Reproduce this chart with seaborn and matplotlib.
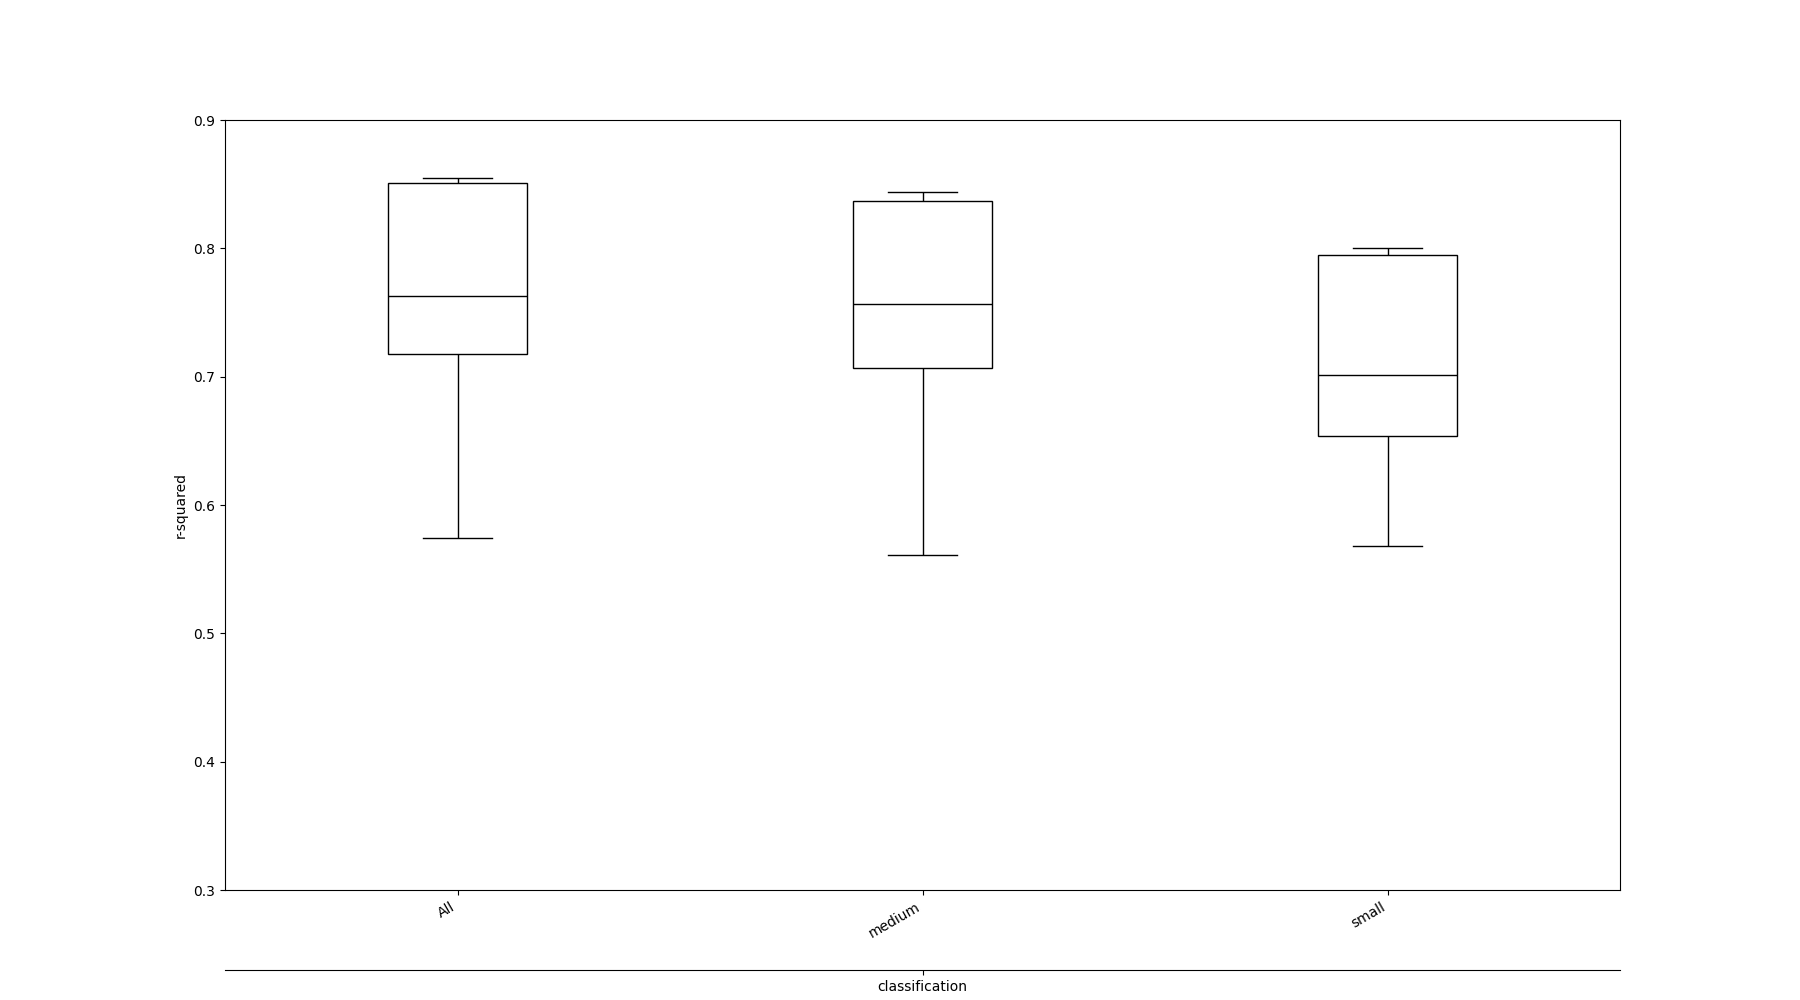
import pandas as pd
import seaborn as sns
import matplotlib
matplotlib.use("Agg")
import matplotlib.pyplot as plt

# Five-number summaries (lower whisker, Q1, median, Q3, upper whisker)
categories = ["All", "medium", "small"]
all_values = [0.574, 0.718, 0.763, 0.851, 0.855]
medium_values = [0.561, 0.707, 0.757, 0.837, 0.844]
small_values = [0.568, 0.654, 0.701, 0.795, 0.800]
y_ticks = [0.3, 0.4, 0.5, 0.6, 0.7, 0.8, 0.9]


def main():
    df = pd.DataFrame({
        "classification": (["All"] * len(all_values)
                           + ["medium"] * len(medium_values)
                           + ["small"] * len(small_values)),
        "r-squared": all_values + medium_values + small_values,
    })

    fig, ax = plt.subplots(figsize=(18, 10), dpi=100)

    sns.boxplot(data=df, x="classification", y="r-squared", order=categories,
                color="white", linecolor="black", linewidth=1.0, width=0.3,
                whis=1.5, showfliers=False, ax=ax)

    ax.set_ylim(0.3, 0.9)
    ax.set_yticks(y_ticks)
    ax.set_yticklabels([f"{t:.1f}" for t in y_ticks])
    ax.set_xlim(-0.5, 2.5)
    ax.set_xlabel("")
    ax.set_ylabel("r-squared")
    plt.setp(ax.get_xticklabels(), rotation=30, ha="right")

    # second axis line below the category labels, holding the group name
    ax2 = ax.twiny()
    ax2.set_xlim(0, 1)
    ax2.xaxis.set_ticks_position("bottom")
    ax2.xaxis.set_label_position("bottom")
    ax2.spines["bottom"].set_position(("outward", 57.6))
    for side in ["top", "left", "right"]:
        ax2.spines[side].set_visible(False)
    ax2.set_xticks([0.5])
    ax2.set_xticklabels(["classification"])

    fig.savefig("out.png", dpi=100)
    plt.close(fig)


if __name__ == "__main__":
    main()
